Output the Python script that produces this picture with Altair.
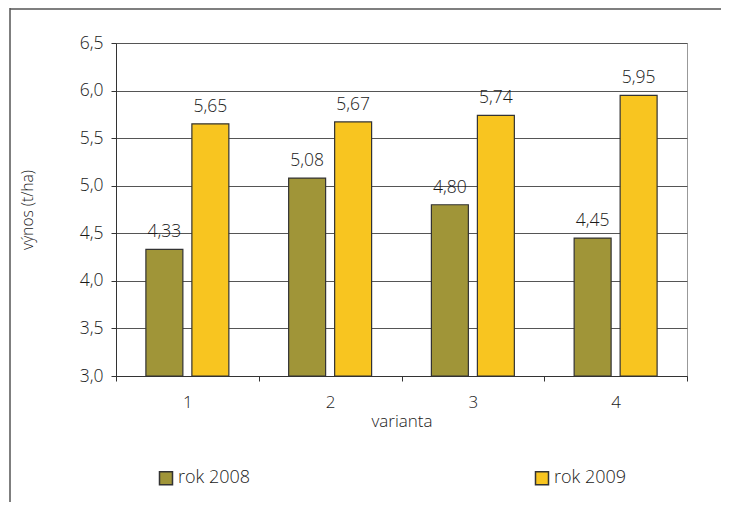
import altair as alt
import pandas as pd

variants = ["1", "2", "3", "4"]
series = ["rok 2008", "rok 2009"]
y2008 = [4.33, 5.08, 4.80, 4.45]
y2009 = [5.65, 5.67, 5.74, 5.95]
colors = ["#A09538", "#F8C520"]

rows = []
for i, v in enumerate(variants):
    rows.append({"varianta": v, "rok": series[0], "val": y2008[i]})
    rows.append({"varianta": v, "rok": series[1], "val": y2009[i]})
df = pd.DataFrame(rows)

FONT = "Open Sans"
TXT = "#1a1a1a"
W = 300

x = alt.X("varianta:N", title="varianta",
          scale=alt.Scale(paddingInner=0, paddingOuter=0),
          axis=alt.Axis(labelAngle=0, tickBand="extent", grid=False, tickSize=5,
                        labelPadding=13, titlePadding=3, domainColor="#333333",
                        tickColor="#333333", labelFontSize=17, titleFontSize=17,
                        labelColor=TXT, titleColor=TXT, titleFontWeight=W, labelFontWeight=W,
                        labelFont=FONT, titleFont=FONT))
xoff = alt.XOffset("rok:N", scale=alt.Scale(paddingInner=0.196, paddingOuter=0.65))
y = alt.Y("val:Q", title="výnos (t/ha)",
          scale=alt.Scale(domain=[3.0, 6.5], nice=False, zero=False),
          axis=alt.Axis(values=[3.0, 3.5, 4.0, 4.5, 5.0, 5.5, 6.0, 6.5],
                        labelExpr="replace(format(datum.value, '.1f'), '.', ',')",
                        gridColor="#555555", gridWidth=1, tickSize=5, tickColor="#333333",
                        domainColor="#333333", labelPadding=8, titlePadding=44,
                        labelFontSize=17.5, titleFontSize=15.5, labelColor=TXT, titleColor=TXT,
                        titleFontWeight=W, labelFontWeight=W, labelFont=FONT, titleFont=FONT))
color = alt.Color("rok:N", scale=alt.Scale(domain=series, range=colors),
                  legend=alt.Legend(title=None, orient="none", legendX=41, legendY=426,
                                    direction="horizontal", columns=2, columnPadding=281,
                                    symbolType="square", symbolSize=169,
                                    symbolStrokeColor="#333333", symbolStrokeWidth=1.5,
                                    labelFontSize=18, labelFont=FONT, labelColor=TXT,
                                    labelFontWeight=W, labelOffset=3, padding=0))

bars = alt.Chart(df).mark_bar(stroke="#333333", strokeWidth=1.2).encode(
    x=x, xOffset=xoff, y=y, y2=alt.Y2(datum=3.0), color=color)

labels = alt.Chart(df).transform_calculate(
    lab="replace(format(datum.val, '.2f'), '.', ',')"
).mark_text(baseline="bottom", dy=-8, fontSize=17.5, font=FONT, fontWeight=W,
            color=TXT).encode(
    x=x, xOffset=xoff, y=y, text="lab:N")

frame_df = pd.DataFrame({"a": [0]})
left_line = alt.Chart(frame_df).mark_rule(color="#555555", strokeWidth=1.5).encode(
    x=alt.value(-106), y=alt.value(-35), y2=alt.value(470))
top_line = alt.Chart(frame_df).mark_rule(color="#555555", strokeWidth=1.5).encode(
    x=alt.value(-106), x2=alt.value(620), y=alt.value(-34))

chart = alt.layer(bars, labels, left_line, top_line).properties(
    width=571, height=333,
    padding={"left": 108, "top": 35, "right": 34, "bottom": 126},
    autosize=alt.AutoSizeParams(type="none"),
).configure_view(stroke="#999999", strokeWidth=1)

chart.save("out.html", embed_options={"renderer": "svg", "actions": False})
